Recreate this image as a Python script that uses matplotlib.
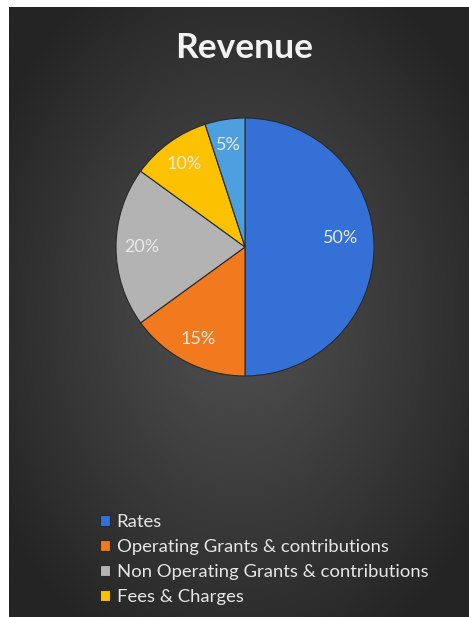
import numpy as np
import matplotlib
matplotlib.use("Agg")
import matplotlib.pyplot as plt

title = "Revenue"
categories = ["Rates", "Operating Grants & contributions",
              "Non Operating Grants & contributions", "Fees & Charges", "Other"]
values = [50, 15, 20, 10, 5]
colors = ["#3570d6", "#f27a1e", "#b3b3b3", "#fcc202", "#4d9fe0"]
legend_count = 4

plt.rcParams['font.family'] = ['Lato', 'DejaVu Sans']

W, H = 469, 617
fig = plt.figure(figsize=(W / 100, H / 100), dpi=100)
fig.patch.set_facecolor("white")

# background radial gradient
bg = fig.add_axes([9 / W, 0, (W - 9) / W, (H - 7) / H])
bg.set_axis_off()
yy, xx = np.mgrid[0:400, 0:300]
cx, cy = 150, 200
r = np.sqrt(((xx - cx) / 300) ** 2 + ((yy - cy) / 400) ** 2)
r = np.clip(r / 0.62, 0, 1)
c0, c1 = 0x50 / 255, 0x24 / 255
img = c0 + (c1 - c0) * r ** 1.1
bg.imshow(np.dstack([img, img, img]), aspect="auto", extent=[0, 1, 0, 1],
          interpolation="bilinear")
bg.set_xlim(0, 1)
bg.set_ylim(0, 1)

fig.text(244 / W, 1 - 48 / H, title, color="#f2f2f2", fontsize=25.5,
         fontweight="bold", ha="center", va="center")

cxp, cyp, rad = 245, 247, 129
ax = fig.add_axes([(cxp - rad) / W, (H - cyp - rad) / H, 2 * rad / W, 2 * rad / H])
wedges, _ = ax.pie(values, colors=colors, startangle=90, counterclock=False,
                   wedgeprops=dict(edgecolor="#2a2a2a", linewidth=0.8))
ax.set_xlim(-1, 1)
ax.set_ylim(-1, 1)
ax.set_aspect("auto")

for w, v in zip(wedges, values):
    mid = np.deg2rad((w.theta1 + w.theta2) / 2)
    d = 0.74 if v >= 50 else 0.8
    ax.text(d * np.cos(mid), d * np.sin(mid) + (0.07 if v >= 50 else 0),
            f"{v}%", color="#e8e8e8", fontsize=13, ha="center", va="center")

handles = wedges[:legend_count]
leg = fig.legend(handles, categories[:legend_count], loc="upper left",
                 bbox_to_anchor=(100 / W, 1 - 514 / H), frameon=False,
                 fontsize=13.3, labelcolor="#e6e6e6", handlelength=0.55,
                 handleheight=0.55, handletextpad=0.35, labelspacing=0.49,
                 borderpad=0, borderaxespad=0)

fig.savefig("out.png", dpi=100, facecolor=fig.get_facecolor())
